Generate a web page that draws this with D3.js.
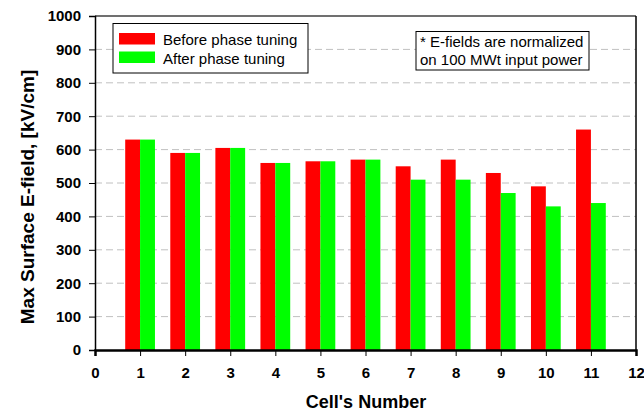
<!DOCTYPE html>
<html><head><meta charset="utf-8">
<script src="https://cdn.jsdelivr.net/npm/d3@7"></script>
<style>body{margin:0;background:#fff}svg{display:block}text{font-family:Arial,"Liberation Sans",sans-serif}</style>
</head><body><svg id="c" width="644" height="415"></svg>
<script>
const cells = [1,2,3,4,5,6,7,8,9,10,11];
const before = [630,590,605,560,565,570,550,570,530,490,660];
const after  = [630,590,605,560,565,570,510,510,470,430,440];
const xTicks = [0,1,2,3,4,5,6,7,8,9,10,11,12];
const yTicks = [0,100,200,300,400,500,600,700,800,900,1000];
const seriesNames = ["Before phase tuning","After phase tuning"];
const colors = ["#ff0000","#00ff00"];

const svg = d3.select("#c");
const L=95,R=636,T=16,B=350;
const x = d3.scaleLinear().domain([0,12]).range([L,R]);
const y = d3.scaleLinear().domain([0,1000]).range([B,T]);
const bw = 0.33;

// grid
svg.append("g").selectAll("line").data(yTicks.filter(d=>d>0&&d<1000)).join("line")
  .attr("x1",L).attr("x2",R).attr("y1",d=>y(d)).attr("y2",d=>y(d))
  .attr("stroke","#c0c0c0").attr("stroke-width",1).attr("stroke-dasharray","7,4");

// bars
const g = svg.append("g");
g.selectAll("rect.b").data(cells).join("rect").attr("class","b")
  .attr("x",(d)=>x(d-bw)).attr("width",x(bw)-x(0))
  .attr("y",(d,i)=>y(before[i])).attr("height",(d,i)=>y(0)-y(before[i]))
  .attr("fill",colors[0]);
g.selectAll("rect.a").data(cells).join("rect").attr("class","a")
  .attr("x",(d)=>x(d)).attr("width",x(bw)-x(0))
  .attr("y",(d,i)=>y(after[i])).attr("height",(d,i)=>y(0)-y(after[i]))
  .attr("fill",colors[1]);

// frame
svg.append("line").attr("x1",L).attr("x2",R).attr("y1",T).attr("y2",T).attr("stroke","#707070").attr("stroke-width",2);
svg.append("line").attr("x1",R).attr("x2",R).attr("y1",T).attr("y2",B).attr("stroke","#000").attr("stroke-width",1.5);

// axes
const ya = svg.append("g").attr("transform",`translate(${L},0)`)
  .call(d3.axisLeft(y).tickValues(yTicks).tickSize(6).tickPadding(8).tickFormat(d3.format("d")));
const xa = svg.append("g").attr("transform",`translate(0,${B})`)
  .call(d3.axisBottom(x).tickValues(xTicks).tickSize(6).tickPadding(11).tickFormat(d3.format("d")));
[ya,xa].forEach(a=>{
  a.selectAll("text").attr("font-size",15).attr("font-weight","bold").attr("fill","#000").attr("font-family","Arial, Liberation Sans, sans-serif");
  a.selectAll("line").attr("stroke","#000").attr("stroke-width",1);
});
ya.select(".domain").attr("stroke","#000").attr("stroke-width",1.5);
xa.select(".domain").attr("stroke","#000").attr("stroke-width",2.5);

// titles
svg.append("text").attr("transform","translate(34,197) rotate(-90)").attr("text-anchor","middle")
  .attr("font-size",19).attr("font-weight","bold").text("Max Surface E-field, [kV/cm]");
svg.append("text").attr("x",366).attr("y",408).attr("text-anchor","middle")
  .attr("font-size",18).attr("font-weight","bold").text("Cell's Number");

// legend
const lg = svg.append("g");
lg.append("rect").attr("x",113).attr("y",23.5).attr("width",195).attr("height",49.5).attr("fill","#fff").attr("stroke","#000").attr("stroke-width",1);
seriesNames.forEach((n,i)=>{
  lg.append("rect").attr("x",119).attr("y",33+i*18.5).attr("width",36).attr("height",11.5).attr("fill",colors[i]);
  lg.append("text").attr("x",163).attr("y",44.5+i*19).attr("font-size",15).text(n);
});

// note
const nt = svg.append("g");
nt.append("rect").attr("x",416).attr("y",31.5).attr("width",173).attr("height",38.5).attr("fill","#fff").attr("stroke","#000").attr("stroke-width",1);
nt.append("text").attr("x",420).attr("y",47).attr("font-size",15).text("* E-fields are normalized");
nt.append("text").attr("x",420).attr("y",64.5).attr("font-size",15).text("on 100 MWt input power");
</script></body></html>
